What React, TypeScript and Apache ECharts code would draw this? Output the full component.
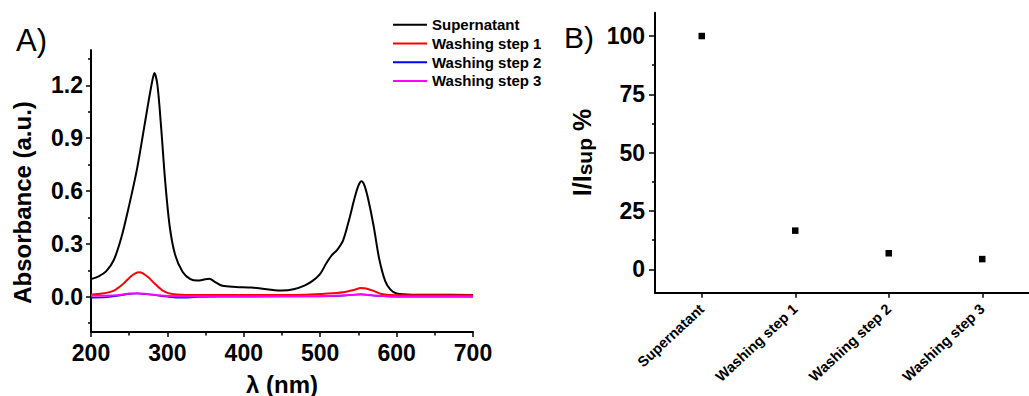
import React, { useEffect, useRef } from "react";
import * as echarts from "echarts";

// Panel A: UV-Vis spectra
const wlSupernatant = [200, 210, 220, 230, 240, 250, 260, 268, 275, 280, 283, 287, 292, 297, 303, 310, 320, 330, 340, 348, 355, 362, 372, 390, 410, 430, 450, 465, 480, 490, 500, 508, 515, 522, 530, 538, 545, 550, 554, 558, 563, 570, 577, 585, 592, 600, 620, 650, 700];
const absSupernatant = [0.10, 0.115, 0.145, 0.21, 0.34, 0.52, 0.72, 0.92, 1.10, 1.22, 1.27, 1.20, 0.95, 0.66, 0.40, 0.24, 0.14, 0.10, 0.092, 0.098, 0.102, 0.085, 0.062, 0.056, 0.052, 0.043, 0.035, 0.042, 0.065, 0.09, 0.13, 0.19, 0.235, 0.265, 0.32, 0.44, 0.56, 0.63, 0.655, 0.63, 0.55, 0.40, 0.22, 0.09, 0.04, 0.018, 0.012, 0.012, 0.01];

const wlStep1 = [200, 215, 230, 242, 252, 258, 263, 268, 275, 284, 295, 308, 330, 400, 480, 510, 530, 545, 553, 560, 570, 580, 600, 700];
const absStep1 = [0.012, 0.018, 0.035, 0.072, 0.115, 0.133, 0.139, 0.133, 0.11, 0.072, 0.032, 0.014, 0.01, 0.01, 0.012, 0.018, 0.026, 0.04, 0.05, 0.047, 0.033, 0.015, 0.008, 0.008];

const wlStep2 = [200, 220, 240, 250, 260, 270, 285, 300, 320, 340, 400, 500, 530, 553, 575, 600, 700];
const absStep2 = [-0.005, -0.003, 0.008, 0.015, 0.018, 0.015, 0.008, 0.0, -0.006, -0.002, 0.0, 0.002, 0.006, 0.014, 0.004, 0.0, 0.0];

const wlStep3 = [200, 220, 240, 250, 260, 270, 285, 300, 340, 400, 500, 530, 553, 575, 600, 700];
const absStep3 = [0.005, 0.006, 0.012, 0.018, 0.02, 0.017, 0.01, 0.004, 0.003, 0.003, 0.004, 0.008, 0.013, 0.006, 0.002, 0.002];

const seriesNames = ["Supernatant", "Washing step 1", "Washing step 2", "Washing step 3"];

const absTickLabels = [0, 0.3, 0.6, 0.9, 1.2];
const absMinorTicks = [-0.15, 0.15, 0.45, 0.75, 1.05, 1.35];

// Panel B: relative intensity
const stepCategories = ["Supernatant", "Washing step 1", "Washing step 2", "Washing step 3"];
const relIntensity = [100, 16.6, 6.9, 4.4];
const relTickLabels = [0, 25, 50, 75, 100];
const relMinorTicks = [12.5, 37.5, 62.5, 87.5];

const FONT = "Liberation Sans, Arial, sans-serif";

const zip = (xs: number[], ys: number[]) => xs.map((x, i) => [x, ys[i]]);

export default function App() {
  const ref = useRef<HTMLDivElement>(null);
  useEffect(() => {
    if (!ref.current) return;
    const chart = echarts.init(ref.current, null, { renderer: "svg" });
    const axisLineStyle = { color: "#000", width: 2 };
    const tickLabel = { color: "#000", fontSize: 23, fontWeight: "bold", fontFamily: FONT };
    const option: any = {
      animation: false,
      backgroundColor: "#fff",
      grid: [
        { left: 91, right: 556, top: 50, bottom: 64 },
        { left: 655, right: -7.2, top: 12.7, bottom: 103.3 },
      ],
      legend: {
        data: seriesNames,
        orient: "vertical",
        left: 393,
        top: 15.5,
        padding: 0,
        icon: "rect",
        itemWidth: 34,
        itemHeight: 2,
        itemGap: 0,
        textStyle: { color: "#000", fontSize: 15, fontWeight: "bold", fontFamily: FONT, lineHeight: 18.7 },
      },
      xAxis: [
        {
          gridIndex: 0,
          type: "value",
          min: 200,
          max: 700,
          interval: 100,
          axisLine: { show: true, onZero: false, lineStyle: axisLineStyle },
          axisTick: { show: true, length: 5, lineStyle: { color: "#000", width: 1.5 } },
          minorTick: { show: true, splitNumber: 2, length: 3.5, lineStyle: { color: "#000", width: 1.5 } },
          axisLabel: { ...tickLabel, margin: 9 },
          splitLine: { show: false },
          minorSplitLine: { show: false },
        },
        {
          gridIndex: 1,
          type: "category",
          data: stepCategories,
          boundaryGap: true,
          axisLine: { show: true, onZero: false, lineStyle: axisLineStyle },
          axisTick: { show: true, alignWithLabel: true, length: 5, lineStyle: { color: "#000", width: 1.5 } },
          axisLabel: { color: "#000", fontSize: 14.5, fontWeight: "bold", fontFamily: FONT, rotate: 43, margin: 14, interval: 0 },
          splitLine: { show: false },
        },
      ],
      yAxis: [
        {
          gridIndex: 0,
          type: "value",
          position: "left",
          min: -0.2,
          max: 1.4,
          axisLine: { show: true, onZero: false, lineStyle: axisLineStyle },
          axisTick: { show: true, length: 5, customValues: absTickLabels, lineStyle: { color: "#000", width: 1.5 } },
          axisLabel: { ...tickLabel, margin: 8, customValues: absTickLabels, formatter: (v: number) => v.toFixed(1) },
          splitLine: { show: false },
        },
        {
          gridIndex: 0,
          type: "value",
          position: "left",
          offset: 0,
          min: -0.2,
          max: 1.4,
          axisLine: { show: false, onZero: false },
          axisTick: { show: true, length: 3, customValues: absMinorTicks, lineStyle: { color: "#000", width: 1.5 } },
          axisLabel: { show: false },
          splitLine: { show: false },
        },
        {
          gridIndex: 1,
          type: "value",
          position: "left",
          min: -10,
          max: 110,
          axisLine: { show: true, onZero: false, lineStyle: axisLineStyle },
          axisTick: { show: true, length: 6, customValues: relTickLabels, lineStyle: { color: "#000", width: 1.5 } },
          axisLabel: { ...tickLabel, margin: 10, customValues: relTickLabels },
          splitLine: { show: false },
        },
        {
          gridIndex: 1,
          type: "value",
          position: "left",
          offset: 0,
          min: -10,
          max: 110,
          axisLine: { show: false, onZero: false },
          axisTick: { show: true, length: 3, customValues: relMinorTicks, lineStyle: { color: "#000", width: 1.5 } },
          axisLabel: { show: false },
          splitLine: { show: false },
        },
      ],
      series: [
        { name: seriesNames[0], type: "line", xAxisIndex: 0, yAxisIndex: 0, data: zip(wlSupernatant, absSupernatant), smooth: 0.3, showSymbol: false, lineStyle: { color: "#000", width: 2 }, itemStyle: { color: "#000" } },
        { name: seriesNames[1], type: "line", xAxisIndex: 0, yAxisIndex: 0, data: zip(wlStep1, absStep1), smooth: 0.3, showSymbol: false, lineStyle: { color: "#ff0000", width: 2 }, itemStyle: { color: "#ff0000" } },
        { name: seriesNames[2], type: "line", xAxisIndex: 0, yAxisIndex: 0, data: zip(wlStep2, absStep2), smooth: 0.3, showSymbol: false, lineStyle: { color: "#0000ff", width: 1.5 }, itemStyle: { color: "#0000ff" } },
        { name: seriesNames[3], type: "line", xAxisIndex: 0, yAxisIndex: 0, data: zip(wlStep3, absStep3), smooth: 0.3, showSymbol: false, lineStyle: { color: "#ff00ff", width: 2 }, itemStyle: { color: "#ff00ff" } },
        { name: "I/Isup", type: "scatter", xAxisIndex: 1, yAxisIndex: 2, data: relIntensity, symbol: "rect", symbolSize: 6.5, itemStyle: { color: "#000", opacity: 1 } },
      ],
      graphic: [
        { type: "text", left: 16, top: 25, style: { text: "A)", fontSize: 31, fontFamily: FONT, fill: "#000" } },
        { type: "text", left: 564, top: 22, style: { text: "B)", fontSize: 30, fontFamily: FONT, fill: "#000" } },
        { type: "text", x: 22.5, y: 202.5, rotation: Math.PI / 2, style: { text: "Absorbance (a.u.)", fontSize: 24, fontWeight: "bold", fontFamily: FONT, fill: "#000", align: "center", verticalAlign: "middle" } },
        { type: "text", x: 282, y: 384, style: { text: "λ (nm)", fontSize: 24, fontWeight: "bold", fontFamily: FONT, fill: "#000", align: "center", verticalAlign: "middle" } },
        {
          type: "text", x: 582, y: 152.5, rotation: Math.PI / 2,
          style: {
            text: "{a|I/I}{b|sup}{a| %}", align: "center", verticalAlign: "middle", fill: "#000",
            rich: {
              a: { fontSize: 25, fontWeight: "bold", fontFamily: FONT, fill: "#000" },
              b: { fontSize: 21, fontWeight: "bold", fontFamily: FONT, fill: "#000", verticalAlign: "bottom" },
            },
          },
        },
      ],
    };
    chart.setOption(option);
    return () => chart.dispose();
  }, []);
  return <div ref={ref} style={{ position: "absolute", left: 0, top: 0, width: 1029, height: 396 }} />;
}
